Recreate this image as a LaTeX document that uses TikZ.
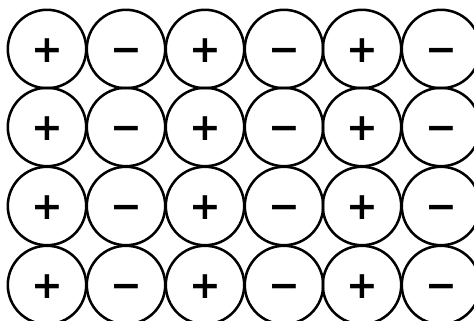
\documentclass[tikz,border=0pt]{standalone}
\usepackage{fontspec}
\setmainfont{DejaVu Sans}
\usepackage{tikz}
\tikzset{
  ion/.style={circle,draw=black,line width=1.8pt,minimum size=1.96cm,inner sep=0pt,
    text height=19pt,text depth=0pt,
    font=\fontsize{27}{27}\selectfont\bfseries}
}

\begin{document}
\begin{tikzpicture}[scale=1.0]
  \useasboundingbox (0,0) rectangle (11.85,-8.025);
  \clip (0,0) rectangle (11.85,-8.025);
  % row 1
  \node[ion] (p11) at (1.175,-1.225) {+};
  \node[ion] (m12) at (3.15,-1.225) {−};
  \node[ion] (p13) at (5.125,-1.225) {+};
  \node[ion] (m14) at (7.1,-1.225) {−};
  \node[ion] (p15) at (9.05,-1.225) {+};
  \node[ion] (m16) at (11.025,-1.225) {−};
  % row 2
  \node[ion] (p21) at (1.175,-3.175) {+};
  \node[ion] (m22) at (3.15,-3.175) {−};
  \node[ion] (p23) at (5.125,-3.175) {+};
  \node[ion] (m24) at (7.1,-3.175) {−};
  \node[ion] (p25) at (9.05,-3.175) {+};
  \node[ion] (m26) at (11.025,-3.175) {−};
  % row 3
  \node[ion] (p31) at (1.175,-5.15) {+};
  \node[ion] (m32) at (3.15,-5.15) {−};
  \node[ion] (p33) at (5.125,-5.15) {+};
  \node[ion] (m34) at (7.1,-5.15) {−};
  \node[ion] (p35) at (9.05,-5.15) {+};
  \node[ion] (m36) at (11.025,-5.15) {−};
  % row 4
  \node[ion] (p41) at (1.175,-7.125) {+};
  \node[ion] (m42) at (3.15,-7.125) {−};
  \node[ion] (p43) at (5.125,-7.125) {+};
  \node[ion] (m44) at (7.1,-7.125) {−};
  \node[ion] (p45) at (9.05,-7.125) {+};
  \node[ion] (m46) at (11.025,-7.125) {−};
\end{tikzpicture}
\end{document}
